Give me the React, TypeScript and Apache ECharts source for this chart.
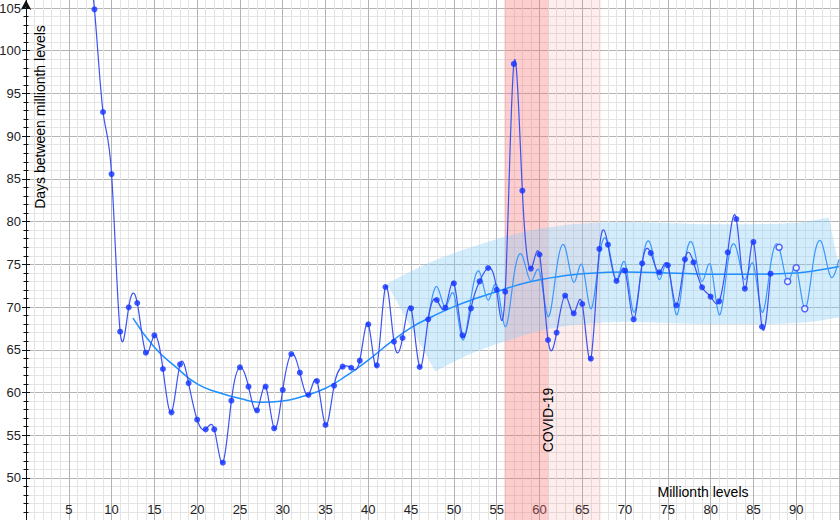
import React, { useEffect, useRef } from "react";
import * as echarts from "echarts";

// Observed series: days between successive millionth levels (x = level number)
const firstLevel = 7;
const days = [
  112, 104.85, 92.83, 85.57, 67.12, 69.97, 70.48, 64.66, 66.69, 62.75,
  57.68, 63.3, 61.11, 56.82, 55.69, 55.69, 51.79, 59.05, 62.95, 60.69,
  57.92, 60.69, 55.81, 60.3, 64.51, 62.32, 59.71, 61.35, 56.2, 60.8,
  63.03, 62.9, 63.73, 67.98, 63.18, 72.35, 65.95, 66.38, 69.85, 62.99,
  68.57, 70.83, 69.93, 72.78, 66.69, 69.85, 73.01, 74.57, 72.03, 71.8,
  98.45, 83.62, 74.5, 76.15, 66.15, 67.0, 71.33, 69.27, 70.36, 63.96,
  76.8, 77.3, 73.05, 74.26, 68.57, 75.12, 76.33, 74.07, 74.89, 70.21,
  75.59, 75.24, 72.31, 71.22, 70.67, 76.41, 80.31, 72.15, 77.62, 67.7,
  73.91,
];

// Model line (light blue, oscillating)
const modelStart = 47;
const modelDays = [
  68.6, 72.4, 70.0, 71.5, 66.2, 71.0, 74.1, 70.8, 72.6, 67.7,
  73.6, 76.0, 73.0, 74.2, 68.9, 74.5, 77.0, 72.9, 74.9, 69.8,
  76.0, 77.4, 73.2, 75.2, 69.4, 75.2, 77.3, 73.2, 75.0, 69.1,
  75.3, 77.1, 73.0, 74.9, 69.1, 75.1, 76.9, 73.2, 75.0, 69.4,
  74.9, 77.0, 73.0, 74.6, 69.8, 75.3, 77.5, 73.6, 75.6,
];

// Forecast points (hollow)
const openLevels = [88, 89, 90, 91];
const openDays = [77.0, 73.0, 74.6, 69.8];

// Trend curve
const trendLevels = [
  12.5, 15, 17.5, 20, 22.5, 25, 27.5, 30, 32.5, 35, 37.5, 40, 42.5, 45,
  47.5, 50, 52.5, 55, 57.5, 60, 62.5, 65, 70, 75, 80, 85, 90, 92.5, 95,
];
const trendDays = [
  68.7, 65.3, 63.0, 61.0, 60.0, 59.3, 58.85, 59.0, 59.6, 60.5, 62.0, 63.8, 65.8, 67.6,
  68.9, 70.05, 71.0, 71.8, 72.6, 73.2, 73.6, 73.9, 74.1, 74.0, 73.85, 73.85, 74.0, 74.3, 74.75,
];
const bandFromLevel = 45;

// COVID-19 shaded periods (x ranges)
const covidCore = [55.9, 61.0];
const covidAfter = [61.0, 67.2];

const FONT = "'Liberation Sans', Arial, Helvetica, sans-serif";

// Natural cubic spline y(x) through pixel points (x ascending), as SVG path data
function splinePath(pts: number[][]): string {
  const n = pts.length;
  if (!n) return "";
  const xs = pts.map((p) => p[0]);
  const ys = pts.map((p) => p[1]);
  let d = `M${xs[0]},${ys[0]}`;
  if (n < 3) {
    for (let i = 1; i < n; i++) d += ` L${xs[i]},${ys[i]}`;
    return d;
  }
  const h: number[] = [];
  for (let i = 0; i < n - 1; i++) h[i] = xs[i + 1] - xs[i];
  const cp: number[] = [];
  const rp: number[] = [];
  for (let i = 1; i <= n - 2; i++) {
    const a = h[i - 1];
    const b = 2 * (h[i - 1] + h[i]);
    const c = h[i];
    const r = 6 * ((ys[i + 1] - ys[i]) / h[i] - (ys[i] - ys[i - 1]) / h[i - 1]);
    const denom = b - (i > 1 ? a * cp[i - 1] : 0);
    cp[i] = c / denom;
    rp[i] = (r - (i > 1 ? a * rp[i - 1] : 0)) / denom;
  }
  const M: number[] = new Array(n).fill(0);
  for (let i = n - 2; i >= 1; i--) M[i] = rp[i] - cp[i] * (i < n - 2 ? M[i + 1] : 0);
  for (let i = 0; i < n - 1; i++) {
    const hi = h[i];
    const s = (ys[i + 1] - ys[i]) / hi;
    const m0 = s - (hi * (2 * M[i] + M[i + 1])) / 6;
    const m1 = s + (hi * (M[i] + 2 * M[i + 1])) / 6;
    const c1x = xs[i] + hi / 3;
    const c1y = ys[i] + (m0 * hi) / 3;
    const c2x = xs[i + 1] - hi / 3;
    const c2y = ys[i + 1] - (m1 * hi) / 3;
    d += ` C${c1x},${c1y} ${c2x},${c2y} ${xs[i + 1]},${ys[i + 1]}`;
  }
  return d;
}

function splineSeries(data: number[][], color: string, width: number, z: number) {
  return {
    type: "custom",
    xAxisIndex: 0,
    yAxisIndex: 0,
    data,
    silent: true,
    z,
    renderItem: (params: any, api: any) => {
      if (params.dataIndex !== 0) return null;
      const pts = data.map((p) => api.coord(p));
      const cs = params.coordSys;
      return {
        type: "path",
        shape: { pathData: splinePath(pts) },
        style: { fill: "none", stroke: color, lineWidth: width },
        clipPath: {
          type: "rect",
          shape: { x: cs.x, y: cs.y, width: cs.width, height: cs.height },
        },
      };
    },
  };
}

export default function App() {
  const ref = useRef<HTMLDivElement>(null);

  useEffect(() => {
    if (!ref.current) return;
    const chart = echarts.init(ref.current, undefined, { renderer: "svg" });

    const mainData = days.map((d, i) => [firstLevel + i, d]);
    const modelData = modelDays.map((d, i) => [modelStart + i, d]);
    const openData = openLevels.map((l, i) => [l, openDays[i]]);
    const trendData = trendLevels.map((l, i) => [l, trendDays[i]]);
    const bandData = trendData.filter((p) => p[0] >= bandFromLevel);

    const majorLine = { show: true, lineStyle: { color: "#b4b4b4", width: 1 } };
    const minorLine = { show: true, lineStyle: { color: "#e4e4e4", width: 1 } };

    const option: any = {
      animation: false,
      backgroundColor: "#ffffff",
      grid: [
        { left: 26, right: 1, top: -34.725, bottom: -0.7, containLabel: false, outerBoundsMode: "none" },
        { left: 26, right: 1, top: 0, bottom: 0, containLabel: false, outerBoundsMode: "none" },
      ],
      xAxis: [
        {
          type: "value",
          gridIndex: 0,
          min: 0,
          max: 95,
          interval: 5,
          axisLine: { show: false, onZero: false },
          axisTick: { show: false },
          axisLabel: {
            inside: true,
            margin: 5,
            color: "#222",
            fontSize: 13,
            fontFamily: FONT,
            showMinLabel: false,
            showMaxLabel: false,
          },
          splitLine: majorLine,
          minorTick: { show: false, splitNumber: 5 },
          minorSplitLine: minorLine,
        },
        { type: "value", gridIndex: 1, min: 0, max: 95, show: false },
      ],
      yAxis: [
        {
          type: "value",
          gridIndex: 0,
          min: 45,
          max: 110,
          interval: 5,
          position: "left",
          axisLine: { show: true, onZero: false, lineStyle: { color: "#111", width: 1 } },
          axisTick: { show: true, length: 4, lineStyle: { color: "#111", width: 1 } },
          minorTick: { show: true, splitNumber: 5, length: 2.5, lineStyle: { color: "#111", width: 1 } },
          axisLabel: {
            color: "#222",
            fontSize: 13,
            margin: 5,
            fontFamily: FONT,
            showMinLabel: false,
            showMaxLabel: false,
          },
          splitLine: majorLine,
          minorSplitLine: minorLine,
        },
        {
          type: "value",
          gridIndex: 0,
          min: 45,
          max: 110,
          interval: 5,
          position: "left",
          axisLine: { show: false, onZero: false },
          axisTick: { show: true, inside: true, length: 4, lineStyle: { color: "#111", width: 1 } },
          minorTick: { show: true, splitNumber: 5, length: 2.5, lineStyle: { color: "#111", width: 1 } },
          axisLabel: { show: false },
          splitLine: { show: false },
          minorSplitLine: { show: false },
        },
        {
          type: "value",
          gridIndex: 1,
          min: 0,
          max: 1,
          position: "left",
          axisLine: {
            show: true,
            onZero: false,
            symbol: ["none", "arrow"],
            symbolSize: [8, 10],
            lineStyle: { color: "#111", width: 1 },
          },
          axisTick: { show: false },
          axisLabel: { show: false },
          splitLine: { show: false },
        },
      ],
      series: [
        {
          name: "band",
          type: "line",
          xAxisIndex: 0,
          yAxisIndex: 0,
          data: bandData,
          smooth: true,
          showSymbol: false,
          silent: true,
          z: 2,
          lineStyle: { width: 100, color: "rgba(135, 206, 250, 0.36)", cap: "butt" },
          markArea: {
            silent: true,
            label: { show: false },
            data: [
              [
                { xAxis: covidCore[0], itemStyle: { color: "rgba(248, 110, 110, 0.34)" } },
                { xAxis: covidCore[1] },
              ],
              [
                { xAxis: covidAfter[0], itemStyle: { color: "rgba(248, 110, 110, 0.12)" } },
                { xAxis: covidAfter[1] },
              ],
            ],
          },
        },
        {
          name: "trend",
          type: "line",
          xAxisIndex: 0,
          yAxisIndex: 0,
          data: trendData,
          smooth: true,
          showSymbol: false,
          silent: true,
          z: 3,
          lineStyle: { width: 1.5, color: "#1e8fff" },
        },
        splineSeries(modelData, "#3a98ff", 1.2, 4),
        splineSeries(mainData, "#3c52f2", 1.2, 5),
        {
          name: "days",
          type: "scatter",
          xAxisIndex: 0,
          yAxisIndex: 0,
          data: mainData,
          symbol: "circle",
          symbolSize: 6,
          silent: true,
          z: 6,
          itemStyle: { color: "#1232ff" },
        },
        {
          name: "forecast",
          type: "scatter",
          xAxisIndex: 0,
          yAxisIndex: 0,
          data: openData,
          symbol: "circle",
          symbolSize: 6,
          silent: true,
          z: 6,
          itemStyle: { color: "#ffffff", borderColor: "#2a40ff", borderWidth: 1.5 },
        },
      ],
      graphic: [
        {
          type: "text",
          x: 40,
          y: 117,
          rotation: Math.PI / 2,
          silent: true,
          z: 100,
          style: {
            text: "Days between millionth levels",
            font: `14px ${FONT}`,
            fill: "#000",
            align: "center",
            verticalAlign: "middle",
          },
        },
        {
          type: "text",
          x: 703,
          y: 492,
          silent: true,
          z: 100,
          style: {
            text: "Millionth levels",
            font: `14px ${FONT}`,
            fill: "#000",
            align: "center",
            verticalAlign: "middle",
          },
        },
        {
          type: "text",
          x: 547.5,
          y: 420,
          rotation: Math.PI / 2,
          silent: true,
          z: 100,
          style: {
            text: "COVID-19",
            font: `14px ${FONT}`,
            fill: "#000",
            align: "center",
            verticalAlign: "middle",
          },
        },
      ],
    };

    chart.setOption(option);
    return () => chart.dispose();
  }, []);

  return (
    <div
      ref={ref}
      style={{ position: "fixed", left: 0, top: 0, width: 840, height: 520, background: "#fff" }}
    />
  );
}
